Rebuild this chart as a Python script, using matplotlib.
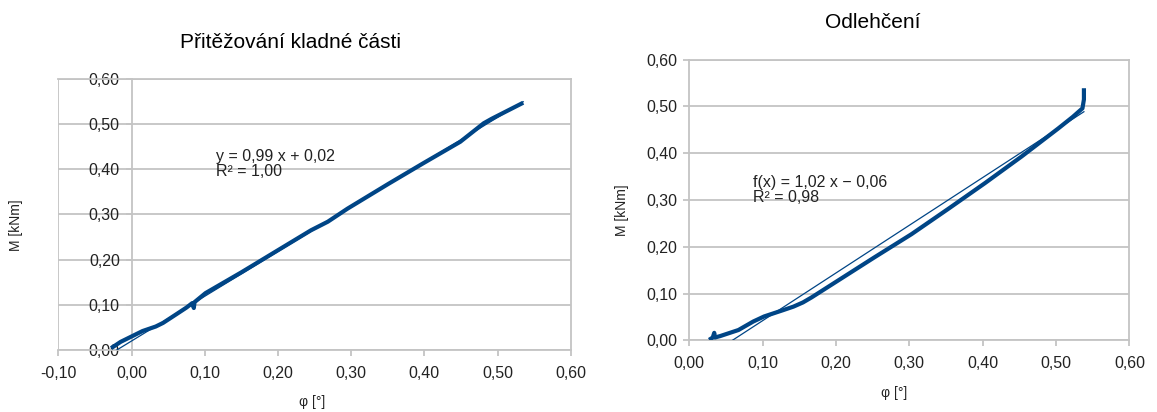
import matplotlib
matplotlib.use("Agg")
import matplotlib.pyplot as plt
import numpy as np
from matplotlib.ticker import FuncFormatter, MultipleLocator

plt.rcParams['font.family'] = ['Liberation Sans', 'DejaVu Sans']

# Loading branch (positive part)
load_phi = [-0.028, -0.015, 0.000, 0.015, 0.033, 0.043, 0.060, 0.075, 0.083,
            0.085, 0.086, 0.101, 0.150, 0.200, 0.245, 0.268, 0.295, 0.351,
            0.399, 0.449, 0.481, 0.492, 0.535]
load_M = [0.004, 0.018, 0.030, 0.042, 0.052, 0.060, 0.078, 0.094, 0.104,
          0.093, 0.106, 0.126, 0.172, 0.221, 0.265, 0.284, 0.313, 0.368,
          0.414, 0.461, 0.502, 0.512, 0.5475]
load_slope, load_intercept = 0.99, 0.02

# Unloading branch
unload_phi = [0.027, 0.032, 0.034, 0.035, 0.042, 0.067, 0.087, 0.102, 0.127,
              0.142, 0.155, 0.167, 0.182, 0.202, 0.252, 0.303, 0.353, 0.403,
              0.453, 0.503, 0.523, 0.536, 0.538, 0.538]
unload_M = [0.001, 0.006, 0.016, 0.006, 0.009, 0.022, 0.040, 0.051, 0.064,
            0.072, 0.081, 0.092, 0.107, 0.127, 0.177, 0.227, 0.281, 0.336,
            0.393, 0.453, 0.478, 0.496, 0.515, 0.539]
unload_slope, unload_intercept = 1.02, -0.06

line_color = '#004586'
grid_color = '#c4c4c4'
text_color = '#222222'
W, H = 1157, 412


def comma(v, pos):
    return f"{v:.2f}".replace('.', ',').replace('-0,00', '0,00')


def style_axes(ax, xmin, xmax):
    ax.set_xlim(xmin, xmax)
    ax.set_ylim(0, 0.6)
    ax.xaxis.set_major_locator(MultipleLocator(0.1))
    ax.yaxis.set_major_locator(MultipleLocator(0.1))
    ax.xaxis.set_major_formatter(FuncFormatter(comma))
    ax.yaxis.set_major_formatter(FuncFormatter(comma))
    ax.grid(axis='y', color=grid_color, lw=1.3)
    ax.set_axisbelow(True)
    for s in ax.spines.values():
        s.set_color(grid_color)
        s.set_linewidth(1.3)
    ax.tick_params(axis='both', colors=grid_color, labelcolor=text_color,
                   labelsize=11.5, length=4.5, width=1.3, direction='out')
    ax.tick_params(axis='x', pad=7)
    ax.tick_params(axis='y', pad=4)
    ax.tick_params(top=False, right=False)


def px(x, y):
    return x / W, 1 - y / H


fig = plt.figure(figsize=(W / 100, H / 100), dpi=100)

# Left chart
ax1 = fig.add_axes([58.4 / W, 62 / H, 512.4 / W, 271 / H])
style_axes(ax1, -0.1, 0.6)
ax1.spines['left'].set_position(('data', 0))
ax1.axvline(-0.1, color=grid_color, lw=1.3, zorder=0)
ax1.plot(load_phi, load_M, color=line_color, lw=3, solid_capstyle='butt',
         solid_joinstyle='round', zorder=3)
tx = np.array([min(load_phi), max(load_phi)])
ax1.plot(tx, load_slope * tx + load_intercept, color=line_color, lw=0.9, zorder=4)
fig.text(*px(216, 164), 'y = 0,99 x + 0,02\nR² = 1,00',
         fontsize=11.5, color=text_color, va='center', ha='left', linespacing=1.0)
fig.text(*px(290.5, 43), 'Přitěžování kladné části', fontsize=15,
         color='#000000', ha='center', va='center')
fig.text(*px(16, 225), 'M [kNm]', fontsize=10, color=text_color,
         rotation=90, ha='center', va='center')
fig.text(*px(312.5, 402), 'φ [°]', fontsize=10, color=text_color,
         ha='center', va='center')

# Right chart
ax2 = fig.add_axes([689.3 / W, 71.7 / H, 440.1 / W, 280.6 / H])
style_axes(ax2, 0.0, 0.6)
ax2.plot(unload_phi, unload_M, color=line_color, lw=3, solid_capstyle='butt',
         solid_joinstyle='round', zorder=3)
tx2 = np.array([min(unload_phi), max(unload_phi)])
ax2.plot(tx2, unload_slope * tx2 + unload_intercept, color=line_color, lw=0.9, zorder=4)
fig.text(*px(753, 189.5), 'f(x) = 1,02 x − 0,06\nR² = 0,98',
         fontsize=11.5, color=text_color, va='center', ha='left', linespacing=1.0)
fig.text(*px(872.5, 22), 'Odlehčení', fontsize=15,
         color='#000000', ha='center', va='center')
fig.text(*px(622, 210), 'M [kNm]', fontsize=10, color=text_color,
         rotation=90, ha='center', va='center')
fig.text(*px(894.5, 393), 'φ [°]', fontsize=10, color=text_color,
         ha='center', va='center')

fig.savefig('out.png', dpi=100, facecolor='white')
